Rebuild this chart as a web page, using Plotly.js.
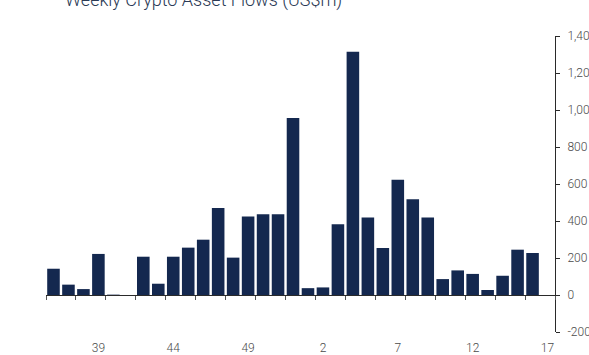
<!DOCTYPE html>
<html>
<head>
<meta charset="utf-8">
<script src="https://cdn.plot.ly/plotly-3.0.1.min.js"></script>
<style>html,body{margin:0;padding:0;background:#fff;overflow:hidden}#chart{width:589px;height:355px}</style>
</head>
<body>
<div id="chart"></div>
<script>
// Week numbers (categories)
const weeks = ['36','37','38','39','40','41','42','43','44','45','46','47','48','49','50','51','52',
               '1','2','3','4','5','6','7','8','9','10','11','12','13','14','15','16','17'];
// Weekly flows, US$m
const flows = [142, 56, 32, 222, 2, -5, 207, 61, 207, 256, 299, 470, 202, 425, 436, 436, 957,
               37, 41, 382, 1315, 419, 254, 623, 517, 419, 86, 133, 114, 27, 104, 245, 227, null];
// Labelled x ticks
const xTickVals = ['39','44','49','2','7','12','17'];
// Y ticks
const yTickVals = [-200, 0, 200, 400, 600, 800, 1000, 1200, 1400];
const yTickText = ['-200','0','200','400','600','800','1,000','1,200','1,400'];
const titleText = 'Weekly Crypto Asset Flows (US$m)';

const font = {family: 'Roboto, sans-serif', size: 12, color: '#4a4a4a', weight: 300};
const yMin = -200, yMax = 1400;

const traces = [
  {type: 'bar', x: weeks, y: flows, xaxis: 'x', yaxis: 'y',
   marker: {color: '#14284f'}, hoverinfo: 'skip'},
  {type: 'scatter', mode: 'markers', x: weeks, y: flows.map(v => v === null ? null : 0),
   xaxis: 'x2', yaxis: 'y', marker: {opacity: 0}, hoverinfo: 'skip', showlegend: false}
];

const layout = {
  width: 589, height: 355,
  margin: {l: 45.5, r: 33.5, t: 36, b: 22.7, pad: 0},
  paper_bgcolor: '#ffffff', plot_bgcolor: '#ffffff',
  showlegend: false,
  bargap: 0.16,
  font: font,
  title: {text: titleText, x: 65/589, xanchor: 'left', xref: 'container',
          y: 1 - 6/355, yanchor: 'bottom', yref: 'container',
          font: {family: 'Roboto, sans-serif', size: 18, color: '#2b3a55', weight: 300}},
  xaxis: {type: 'category', categoryorder: 'array', categoryarray: weeks,
          range: [-0.5, weeks.length - 0.5], tickmode: 'array', tickvals: xTickVals, ticktext: xTickVals,
          showline: false, showgrid: false, zeroline: false, ticks: '', ticklabelstandoff: 7,
          tickfont: font, fixedrange: true},
  xaxis2: {type: 'category', categoryorder: 'array', categoryarray: weeks, overlaying: 'x',
           anchor: 'free', position: (0 - yMin) / (yMax - yMin),
           range: [-0.5, weeks.length - 0.5], showline: true, linecolor: '#2a2a2a', linewidth: 1,
           ticks: 'outside', tickson: 'boundaries', ticklen: 4, tickcolor: '#555', tickwidth: 1,
           showticklabels: false, showgrid: false, zeroline: false, fixedrange: true},
  yaxis: {side: 'right', range: [yMin, yMax], tickmode: 'array', tickvals: yTickVals, ticktext: yTickText,
          showline: true, linecolor: '#2a2a2a', linewidth: 1, ticks: 'outside', ticklen: 4,
          tickcolor: '#2a2a2a', showgrid: false, zeroline: false, ticklabelstandoff: 5,
          tickfont: font, fixedrange: true}
};

Plotly.newPlot('chart', traces, layout, {staticPlot: true, displayModeBar: false});
</script>
</body>
</html>
